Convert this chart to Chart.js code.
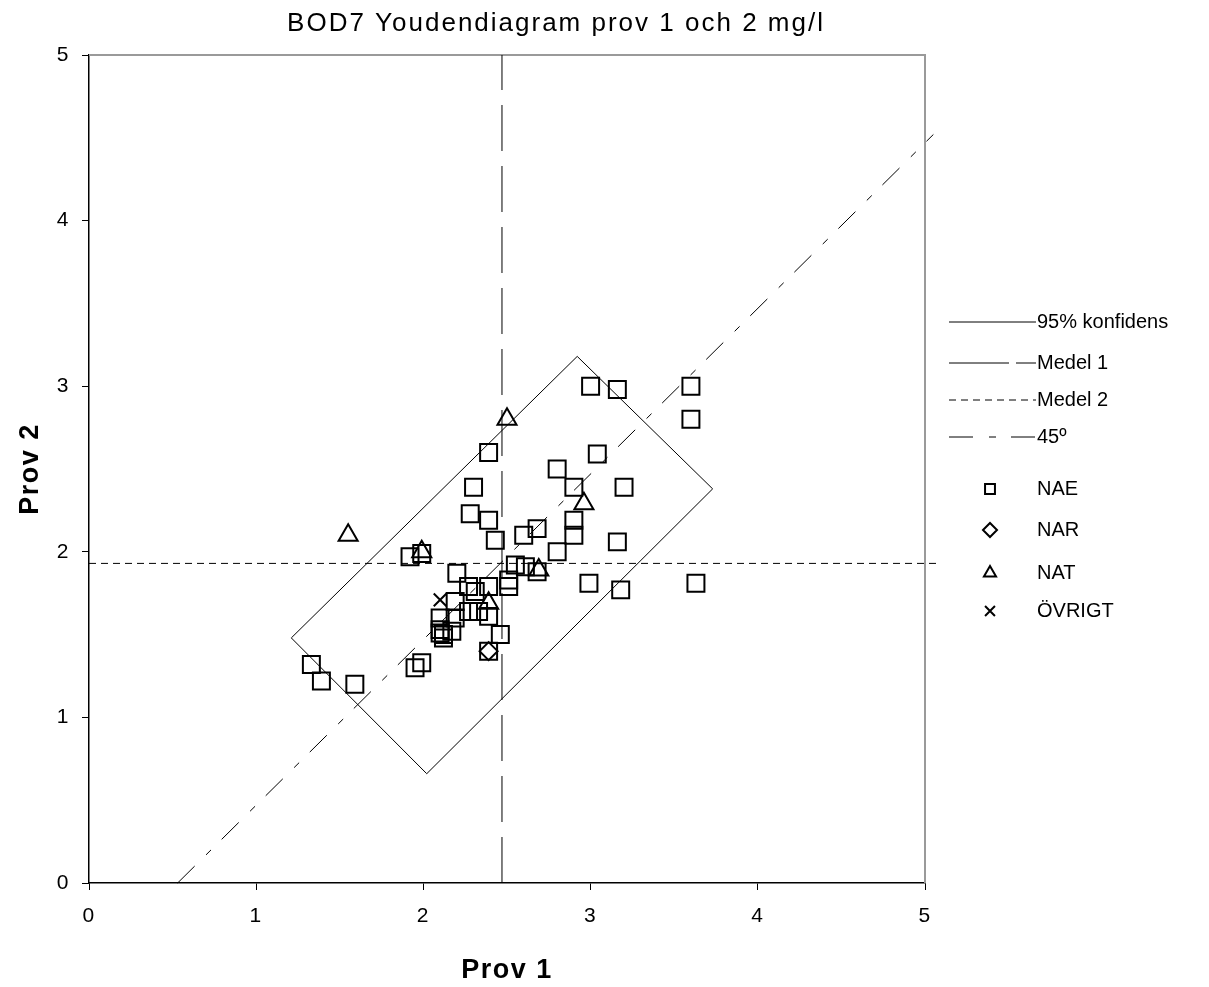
<!DOCTYPE html>
<html>
<head>
<meta charset="utf-8">
<title>BOD7 Youdendiagram</title>
<script src="https://cdn.jsdelivr.net/npm/chart.js@4.4.1/dist/chart.umd.min.js"></script>
<style>
    html, body { margin: 0; padding: 0; background: #fff; }
    #wrap { width: 1209px; height: 987px; position: relative; }
</style>
</head>
<body>
<div id="wrap"><canvas id="youden"></canvas></div>
<script>
// Värden (mg/l)
const naeX = [3.00, 3.16, 3.60, 3.60, 2.39, 3.04, 2.80, 2.90, 3.20, 2.30, 2.28, 2.39, 2.43, 2.60, 2.68, 2.90, 2.90,
    2.80, 3.16, 2.99, 3.18, 3.63, 1.92, 1.99, 2.20, 2.27, 2.31, 2.39, 2.55, 2.61, 2.51, 2.51, 2.68, 2.19, 2.10,
    2.19, 2.27, 2.33, 2.39, 2.46, 2.39, 2.10, 2.12, 2.17, 2.12, 2.10, 1.99, 1.95, 1.33, 1.39, 1.59];
const naeY = [3.00, 2.98, 3.00, 2.80, 2.60, 2.59, 2.50, 2.39, 2.39, 2.39, 2.23, 2.19, 2.07, 2.10, 2.14, 2.19, 2.10,
    2.00, 2.06, 1.81, 1.77, 1.81, 1.97, 1.99, 1.87, 1.79, 1.76, 1.79, 1.92, 1.91, 1.83, 1.79, 1.88, 1.70, 1.60,
    1.60, 1.64, 1.64, 1.61, 1.50, 1.40, 1.53, 1.50, 1.52, 1.48, 1.51, 1.33, 1.30, 1.32, 1.22, 1.20];

const narX = [2.39];
const narY = [1.40];

const natX = [2.50, 1.55, 1.99, 2.96, 2.69, 2.39];
const natY = [2.80, 2.10, 2.00, 2.29, 1.89, 1.69];

const ovrX = [2.10];
const ovrY = [1.71];

// 95% konfidensrektangel (hörn, sluten)
const konfX = [2.92, 3.73, 2.02, 1.21, 2.92];
const konfY = [3.18, 2.38, 0.66, 1.48, 3.18];

const medel1 = 2.47;
const medel2 = 1.93;
const line45X = [0.53, 5.05];
const line45Y = [0.00, 4.52];

const toPoints = (xs, ys) => xs.map((x, i) => ({x: x, y: ys[i]}));

const FONT = "'Liberation Sans', Arial, sans-serif";
const TITLE = 'BOD7 Youdendiagram prov 1 och 2 mg/l';
Chart.defaults.font.family = FONT;
Chart.defaults.color = '#000';

// Grå ram upptill och till höger om diagramytan + lite luftigare text (som i Excel)
const framePlugin = {
    id: 'frame',
    beforeDraw(chart) {
        chart.ctx.letterSpacing = '1.5px';
    },
    beforeDatasetsDraw(chart) {
        const {ctx, chartArea: a} = chart;
        ctx.save();
        ctx.strokeStyle = '#9a9a9a';
        ctx.lineWidth = 2;
        ctx.beginPath();
        ctx.moveTo(a.left, a.top);
        ctx.lineTo(a.right, a.top);
        ctx.lineTo(a.right, a.bottom);
        ctx.stroke();
        ctx.restore();
    },
    afterDraw(chart) {
        const ctx = chart.ctx;
        ctx.save();
        ctx.font = '26px ' + FONT;
        ctx.letterSpacing = '2px';
        ctx.fillStyle = '#000';
        ctx.textAlign = 'center';
        ctx.textBaseline = 'middle';
        ctx.fillText(TITLE, 556, 24);
        ctx.restore();
        ctx.letterSpacing = '0px';
    }
};

// Egen förklaring till höger (linjeprov + markörer)
const legendItems = [
    {label: '95% konfidens', type: 'line', dash: []},
    {label: 'Medel 1', type: 'line', dash: [60, 7]},
    {label: 'Medel 2', type: 'line', dash: [7, 5]},
    {label: '45º', type: 'line', dash: [24, 16, 7, 15]},
    {label: 'NAE', type: 'rect'},
    {label: 'NAR', type: 'rectRot'},
    {label: 'NAT', type: 'triangle'},
    {label: 'ÖVRIGT', type: 'crossRot'}
];
const legendRows = [322, 363, 400, 437, 489, 530, 573, 611];

const sideLegend = {
    id: 'sideLegend',
    afterDraw(chart) {
        const ctx = chart.ctx;
        ctx.save();
        ctx.letterSpacing = '0px';
        ctx.font = '20px ' + FONT;
        ctx.textBaseline = 'middle';
        legendItems.forEach((item, i) => {
            const y = legendRows[i];
            ctx.strokeStyle = '#000';
            if (item.type === 'line') {
                ctx.lineWidth = 1;
                ctx.setLineDash(item.dash);
                ctx.beginPath();
                ctx.moveTo(949, y);
                ctx.lineTo(1036, y);
                ctx.stroke();
                ctx.setLineDash([]);
            } else {
                ctx.lineWidth = 2;
                ctx.fillStyle = 'rgba(0,0,0,0)';
                Chart.helpers.drawPoint(ctx, {pointStyle: item.type, radius: 7, rotation: 0, borderWidth: 2}, 990, y);
            }
            ctx.fillStyle = '#000';
            ctx.fillText(item.label, 1037, y);
        });
        ctx.restore();
    }
};

const markerBase = {
    type: 'scatter',
    backgroundColor: 'rgba(0,0,0,0)',
    borderColor: '#000',
    pointBorderWidth: 2,
    showLine: false
};

const lineBase = {
    type: 'line',
    showLine: true,
    pointRadius: 0,
    pointHoverRadius: 0,
    borderColor: '#000',
    borderWidth: 1,
    fill: false,
    clip: false,
    tension: 0
};

new Chart(document.getElementById('youden').getContext('2d'), {
    type: 'scatter',
    data: {
        datasets: [
            Object.assign({}, lineBase, {label: '95% konfidens', data: toPoints(konfX, konfY)}),
            Object.assign({}, lineBase, {label: 'Medel 1', data: [{x: medel1, y: 0}, {x: medel1, y: 5}], borderDash: [46, 15], clip: true}),
            Object.assign({}, lineBase, {label: 'Medel 2', data: [{x: 0, y: medel2}, {x: 5.09, y: medel2}], borderDash: [7, 5]}),
            Object.assign({}, lineBase, {label: '45º', data: toPoints(line45X, line45Y), borderDash: [24, 16, 7, 15]}),
            Object.assign({}, markerBase, {label: 'NAE', data: toPoints(naeX, naeY), pointStyle: 'rect', pointRadius: 12}),
            Object.assign({}, markerBase, {label: 'NAR', data: toPoints(narX, narY), pointStyle: 'rectRot', pointRadius: 9}),
            Object.assign({}, markerBase, {label: 'NAT', data: toPoints(natX, natY), pointStyle: 'triangle', pointRadius: 11}),
            Object.assign({}, markerBase, {label: 'ÖVRIGT', data: toPoints(ovrX, ovrY), pointStyle: 'crossRot', pointRadius: 9})
        ]
    },
    options: {
        responsive: true,
        maintainAspectRatio: false,
        animation: false,
        layout: {padding: {left: 0, right: 284, top: 55, bottom: 0}},
        plugins: {
            legend: {display: false},
            tooltip: {enabled: false},
            title: {display: false}
        },
        scales: {
            x: {
                type: 'linear',
                min: 0,
                max: 5,
                ticks: {stepSize: 1, font: {size: 21}, padding: 14, maxRotation: 0},
                grid: {drawOnChartArea: false, drawTicks: true, tickLength: 7, color: '#000'},
                border: {display: true, color: '#000', width: 1.5},
                title: {display: true, text: 'Prov 1', font: {size: 27, weight: 'bold'}, padding: {top: 0, bottom: 0}},
                afterFit(scale) { scale.height = 104; }
            },
            y: {
                type: 'linear',
                min: 0,
                max: 5,
                ticks: {stepSize: 1, font: {size: 21}, padding: 12},
                grid: {drawOnChartArea: false, drawTicks: true, tickLength: 7, color: '#000'},
                border: {display: true, color: '#000', width: 1.5},
                title: {display: true, text: 'Prov 2', font: {size: 27, weight: 'bold'}, padding: {top: 14, bottom: 0}},
                afterFit(scale) { scale.width = 89; }
            }
        }
    },
    plugins: [framePlugin, sideLegend]
});
</script>
</body>
</html>
